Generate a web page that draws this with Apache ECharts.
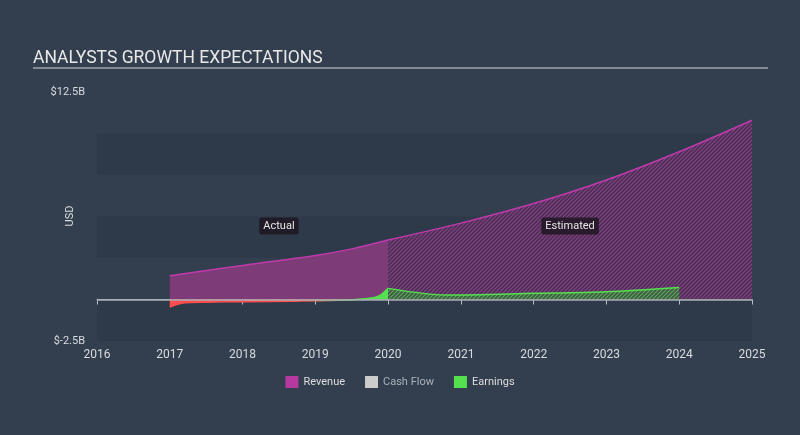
<!DOCTYPE html>
<html><head><meta charset="utf-8">
<script src="https://cdn.jsdelivr.net/npm/echarts@6/dist/echarts.min.js"></script>
<style>html,body{margin:0;padding:0;background:#333f4f;}#c{width:800px;height:435px;}</style>
</head><body><div id="c"></div>
<script>
// ---- data ----
const titleText = 'ANALYSTS GROWTH EXPECTATIONS';
const yAxisName = 'USD';
const yMin = -2.5, yMax = 12.5, yStep = 2.5;
const yTickLabels = {'12.5': '$12.5B', '-2.5': '$-2.5B'};
const xMin = 2016, xMax = 2025;
const revenueActualX = [2017, 2018, 2019, 2019.5, 2020];
const revenueActualY = [1.43, 2.05, 2.65, 3.05, 3.58];
const revenueEstX = [2020, 2021, 2022, 2023, 2024, 2025];
const revenueEstY = [3.58, 4.6, 5.78, 7.2, 8.9, 10.8];
const earningsActualX = [2017, 2017.2, 2017.5, 2018, 2018.7, 2019.3, 2019.6, 2019.8, 2019.9, 2020];
const earningsActualY = [-0.45, -0.2, -0.16, -0.13, -0.1, -0.05, 0.02, 0.1, 0.28, 0.67];
const earningsEstX = [2020, 2020.8, 2022, 2023, 2024];
const earningsEstY = [0.67, 0.27, 0.37, 0.47, 0.73];
const annotations = [{name: 'Actual', x: 2018.5, y: 4.43}, {name: 'Estimated', x: 2022.5, y: 4.43}];
const legendNames = ['Revenue', 'Cash Flow', 'Earnings'];

function zip(xs, ys) { return xs.map((x, i) => [x, ys[i]]); }
function hatch(bg, fg) {
  const c = document.createElement('canvas');
  c.width = 4; c.height = 4;
  const g = c.getContext('2d');
  g.fillStyle = bg; g.fillRect(0, 0, 4, 4);
  g.strokeStyle = fg; g.lineWidth = 1.2;
  g.beginPath();
  g.moveTo(0, 4); g.lineTo(4, 0);
  g.moveTo(-1, 1); g.lineTo(1, -1);
  g.moveTo(3, 5); g.lineTo(5, 3);
  g.stroke();
  return c;
}

const revLine = '#c03aab';
const earnGreen = '#55e04f';
const earnRed = '#ff4d4d';
const chart = echarts.init(document.getElementById('c'));
function earnGradient() {
  return new echarts.graphic.LinearGradient(0, 0, 1, 0, [
    {offset: 0, color: earnRed}, {offset: 0.62, color: earnRed}, {offset: 0.86, color: earnGreen}, {offset: 1, color: earnGreen}
  ]);
}

chart.setOption({
  backgroundColor: '#333f4f',
  animation: false,
  textStyle: {fontFamily: 'Roboto'},
  title: {text: titleText, left: 28, top: 45,
    textStyle: {color: '#e8e8e8', fontSize: 17.5, fontWeight: 'normal', fontFamily: 'Roboto'}},
  graphic: [
    {type: 'rect', shape: {x: 33, y: 67.5, width: 735, height: 1}, style: {fill: '#d8d8d8'}, silent: true},
    {type: 'text', x: 70, y: 216, rotation: Math.PI / 2, silent: true,
      style: {text: yAxisName, fill: '#d8dbe0', fontSize: 11, fontFamily: 'Roboto', align: 'center', verticalAlign: 'middle'}}
  ],
  grid: {left: 97, right: 48, top: 92, bottom: 94, containLabel: false},
  legend: {
    bottom: 42, left: 'center', itemWidth: 13, itemHeight: 12, itemGap: 20, icon: 'rect',
    textStyle: {color: '#dddddd', fontSize: 11},
    data: [
      {name: legendNames[0], itemStyle: {color: '#b5399e'}},
      {name: legendNames[1], itemStyle: {color: '#cccccc'}, textStyle: {color: '#aab0b8'}},
      {name: legendNames[2], itemStyle: {color: earnGreen}}
    ],
    selectedMode: false
  },
  xAxis: {
    type: 'value', min: xMin, max: xMax, interval: 1,
    axisLine: {show: true, lineStyle: {color: '#b8bec6', width: 1}},
    axisTick: {show: true, length: 5, lineStyle: {color: '#b8bec6'}},
    axisLabel: {color: '#d8dbe0', fontSize: 12, margin: 8, formatter: v => String(v)},
    splitLine: {show: false}
  },
  yAxis: {
    type: 'value', min: yMin, max: yMax, interval: yStep,
    axisLine: {show: false}, axisTick: {show: false},
    axisLabel: {color: '#d8dbe0', fontSize: 11, margin: 12,
      formatter: v => yTickLabels[String(v)] || ''},
    splitLine: {show: false},
    splitArea: {show: true, areaStyle: {color: ['#2e3a49', 'rgba(0,0,0,0)']}}
  },
  series: [
    {name: legendNames[0], type: 'line', data: zip(revenueActualX, revenueActualY), smooth: 0.4,
      symbol: 'none', lineStyle: {color: revLine, width: 1.5}, itemStyle: {color: '#b5399e'},
      areaStyle: {color: '#7d3b77', opacity: 1}, z: 2,
      markLine: {silent: true, symbol: 'none', label: {show: false},
        lineStyle: {color: '#a9aeb5', width: 1.5, type: 'solid'}, data: [{yAxis: 0}], z: 5},
      markPoint: {symbol: 'rect', symbolSize: 0, silent: true,
        label: {show: true, color: '#e6e6e6', fontSize: 11, backgroundColor: 'rgba(30,22,34,0.85)',
          padding: [3, 4], borderRadius: 2, formatter: p => p.name},
        data: annotations.map(a => ({name: a.name, coord: [a.x, a.y]}))}
    },
    {name: legendNames[0], type: 'line', data: zip(revenueEstX, revenueEstY), smooth: 0.3,
      symbol: 'none', lineStyle: {color: revLine, width: 1.5}, itemStyle: {color: '#b5399e'},
      areaStyle: {color: {image: hatch('#4c3052', '#86408a'), repeat: 'repeat'}, opacity: 1}, z: 2},
    {name: legendNames[1], type: 'line', data: [], symbol: 'none', itemStyle: {color: '#cccccc'}},
    {name: legendNames[2], type: 'line', data: zip(earningsActualX, earningsActualY), smooth: 0.3,
      symbol: 'none', lineStyle: {color: earnGradient(), width: 1.5}, itemStyle: {color: earnGreen},
      areaStyle: {color: earnGradient(), opacity: 1}, z: 3},
    {name: legendNames[2], type: 'line', data: zip(earningsEstX, earningsEstY), smooth: 0.3,
      symbol: 'none', lineStyle: {color: earnGreen, width: 1.5}, itemStyle: {color: earnGreen},
      areaStyle: {color: {image: hatch('#3d5a44', '#62a85a'), repeat: 'repeat'}, opacity: 1}, z: 3}
  ]
});
</script></body></html>
